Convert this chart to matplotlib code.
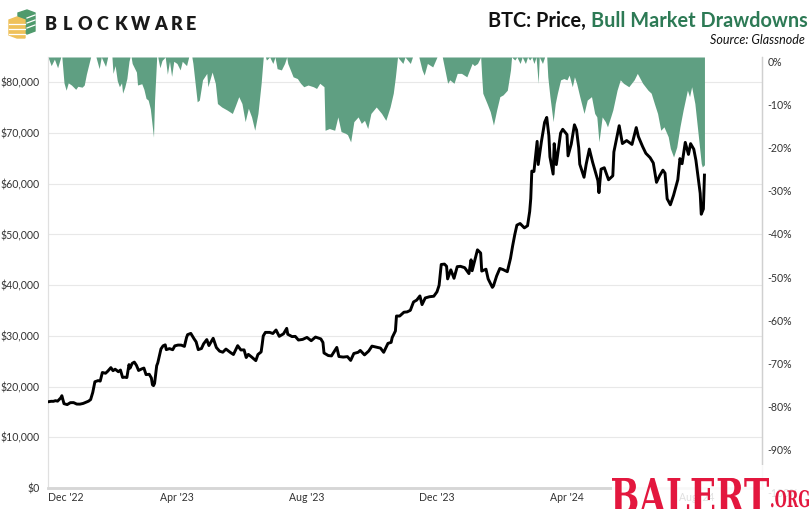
import matplotlib
matplotlib.use('Agg')
import matplotlib.pyplot as plt
import matplotlib.patches as mpatches
import matplotlib.transforms as mtransforms
from matplotlib.textpath import TextPath
from matplotlib.font_manager import FontProperties
import pandas as pd
import numpy as np

plt.rcParams['font.family'] = ['Lato', 'DejaVu Sans']

# BTC price (USD)
price_dates = [
    '2022-12-01', '2022-12-04', '2022-12-06', '2022-12-08', '2022-12-10', '2022-12-13', '2022-12-14',
    '2022-12-16', '2022-12-19', '2022-12-22', '2022-12-25', '2022-12-28', '2022-12-31',
    '2023-01-03', '2023-01-06', '2023-01-08', '2023-01-10', '2023-01-12', '2023-01-13', '2023-01-14',
    '2023-01-17', '2023-01-19', '2023-01-21', '2023-01-24', '2023-01-26', '2023-01-29', '2023-01-31',
    '2023-02-02', '2023-02-05', '2023-02-07', '2023-02-09', '2023-02-11', '2023-02-13', '2023-02-15',
    '2023-02-16', '2023-02-18', '2023-02-20', '2023-02-22', '2023-02-24', '2023-02-27', '2023-03-01',
    '2023-03-03', '2023-03-06', '2023-03-08', '2023-03-09', '2023-03-10', '2023-03-11', '2023-03-13',
    '2023-03-14', '2023-03-17', '2023-03-19', '2023-03-21', '2023-03-22', '2023-03-25', '2023-03-28',
    '2023-03-30', '2023-04-02', '2023-04-05', '2023-04-08', '2023-04-10', '2023-04-11', '2023-04-14',
    '2023-04-17', '2023-04-19', '2023-04-21', '2023-04-24', '2023-04-26', '2023-04-29', '2023-05-01',
    '2023-05-05', '2023-05-08', '2023-05-11', '2023-05-14', '2023-05-17', '2023-05-21', '2023-05-24',
    '2023-05-28', '2023-05-31', '2023-06-03', '2023-06-05', '2023-06-07', '2023-06-10', '2023-06-14',
    '2023-06-16', '2023-06-19', '2023-06-20', '2023-06-21', '2023-06-23', '2023-06-27', '2023-06-30',
    '2023-07-03', '2023-07-06', '2023-07-10', '2023-07-13', '2023-07-14', '2023-07-18', '2023-07-21',
    '2023-07-24', '2023-07-28', '2023-08-01', '2023-08-05', '2023-08-09', '2023-08-14', '2023-08-16',
    '2023-08-17', '2023-08-21', '2023-08-24', '2023-08-29', '2023-08-31', '2023-09-04', '2023-09-08',
    '2023-09-11', '2023-09-14', '2023-09-18', '2023-09-20', '2023-09-24', '2023-09-28', '2023-10-01',
    '2023-10-05', '2023-10-09', '2023-10-12', '2023-10-16', '2023-10-19', '2023-10-20', '2023-10-23',
    '2023-10-24', '2023-10-27', '2023-10-31', '2023-11-03', '2023-11-06', '2023-11-09', '2023-11-12',
    '2023-11-15', '2023-11-17', '2023-11-20', '2023-11-24', '2023-11-28', '2023-12-01', '2023-12-03',
    '2023-12-04', '2023-12-05', '2023-12-08', '2023-12-10', '2023-12-11', '2023-12-14', '2023-12-17',
    '2023-12-20', '2023-12-23', '2023-12-27', '2023-12-31', '2024-01-02', '2024-01-03', '2024-01-08',
    '2024-01-11', '2024-01-12', '2024-01-16', '2024-01-18', '2024-01-22', '2024-01-23', '2024-01-26',
    '2024-01-29', '2024-02-01', '2024-02-05', '2024-02-08', '2024-02-10', '2024-02-12', '2024-02-14',
    '2024-02-17', '2024-02-21', '2024-02-24', '2024-02-26', '2024-02-27', '2024-02-28', '2024-03-01',
    '2024-03-04', '2024-03-05', '2024-03-08', '2024-03-11', '2024-03-13', '2024-03-15', '2024-03-16',
    '2024-03-19', '2024-03-20', '2024-03-22', '2024-03-26', '2024-03-28', '2024-04-01', '2024-04-02',
    '2024-04-05', '2024-04-08', '2024-04-10', '2024-04-12', '2024-04-13', '2024-04-17', '2024-04-19',
    '2024-04-22', '2024-04-25', '2024-04-30', '2024-05-01', '2024-05-03', '2024-05-06', '2024-05-10',
    '2024-05-14', '2024-05-15', '2024-05-20', '2024-05-23', '2024-05-27', '2024-06-01', '2024-06-05',
    '2024-06-07', '2024-06-11', '2024-06-14', '2024-06-18', '2024-06-21', '2024-06-24', '2024-06-27',
    '2024-06-30', '2024-07-02', '2024-07-04', '2024-07-05', '2024-07-07', '2024-07-10', '2024-07-14',
    '2024-07-16', '2024-07-18', '2024-07-21', '2024-07-24', '2024-07-26', '2024-07-29', '2024-07-31',
    '2024-08-02', '2024-08-04', '2024-08-05', '2024-08-07', '2024-08-08',
]
price_values = [
    17000, 17100, 17090, 17220, 17130, 17780, 18200,
    16630, 16450, 16830, 16840, 16550, 16540,
    16680, 16950, 17120, 17440, 18850, 19930, 20950,
    21180, 21080, 22780, 22630, 23020, 23740, 23130,
    23430, 22930, 23260, 21800, 21860, 21780, 24330,
    23640, 24570, 24830, 24190, 23180, 23490, 23650,
    22360, 22430, 21700, 20360, 20190, 20630, 24120,
    24670, 27420, 28040, 28230, 27290, 27490, 27270,
    28030, 28190, 28180, 27930, 29670, 30240, 30490,
    29440, 28820, 27290, 27510, 28430, 29270, 28090,
    29530, 27700, 26990, 26780, 27400, 26750, 26330,
    28070, 27220, 27240, 25730, 26350, 25850, 25120,
    26330, 26840, 28330, 30000, 30690, 30690, 30470,
    31160, 29910, 30410, 31480, 30320, 29860, 29900,
    29180, 29310, 29700, 29050, 29770, 29410, 28700,
    26630, 26120, 26050, 27730, 25930, 25820, 25910,
    25160, 26530, 26760, 27130, 26250, 27020, 27980,
    27780, 27590, 26760, 28520, 28720, 29680, 30970,
    33920, 33910, 34670, 34730, 35040, 36690, 37060,
    37880, 36170, 37480, 37720, 37820, 38690, 39970,
    41980, 44080, 44160, 43730, 41240, 43020, 41360,
    43650, 43720, 43450, 42280, 45000, 42850, 46970,
    46340, 42780, 43150, 41250, 39570, 39850, 41820,
    43300, 43080, 42660, 45290, 47750, 49960, 51840,
    52160, 51300, 51730, 54520, 57080, 62500, 62430,
    68360, 63800, 68310, 72120, 73080, 69500, 65320,
    61910, 67910, 63780, 69990, 70740, 69700, 65500,
    67840, 71630, 70590, 67100, 63860, 61280, 63840,
    66840, 64290, 60620, 58250, 62890, 63160, 60790,
    61570, 66270, 71450, 67930, 68520, 67760, 71080,
    69300, 67320, 66010, 65150, 64100, 60280, 61610,
    62680, 62090, 57030, 56660, 55850, 57720, 60800,
    64960, 63960, 68160, 65790, 67910, 66810, 64620,
    61420, 58120, 53990, 55030, 61710,
]

# bull market drawdown (%)
dd_dates = [
    '2022-12-01', '2022-12-04', '2022-12-07', '2022-12-10', '2022-12-13', '2022-12-14', '2022-12-16',
    '2022-12-18', '2022-12-20', '2022-12-23', '2022-12-27', '2022-12-29', '2023-01-02', '2023-01-04',
    '2023-01-06', '2023-01-08', '2023-01-10', '2023-01-15', '2023-01-18', '2023-01-20', '2023-01-24',
    '2023-01-26', '2023-01-30', '2023-01-31', '2023-02-02', '2023-02-04', '2023-02-06', '2023-02-08',
    '2023-02-09', '2023-02-11', '2023-02-13', '2023-02-15', '2023-02-16', '2023-02-17', '2023-02-18',
    '2023-02-22', '2023-02-23', '2023-02-27', '2023-03-01', '2023-03-03', '2023-03-05', '2023-03-07',
    '2023-03-10', '2023-03-11', '2023-03-13', '2023-03-14', '2023-03-16', '2023-03-18', '2023-03-21',
    '2023-03-23', '2023-03-25', '2023-03-27', '2023-03-29', '2023-04-01', '2023-04-04', '2023-04-06',
    '2023-04-10', '2023-04-12', '2023-04-15', '2023-04-16', '2023-04-20', '2023-04-22', '2023-04-25',
    '2023-04-29', '2023-04-30', '2023-05-04', '2023-05-07', '2023-05-09', '2023-05-13', '2023-05-18',
    '2023-05-23', '2023-05-26', '2023-05-29', '2023-06-01', '2023-06-04', '2023-06-07', '2023-06-10',
    '2023-06-13', '2023-06-16', '2023-06-19', '2023-06-21', '2023-06-23', '2023-06-24', '2023-06-27',
    '2023-06-30', '2023-07-02', '2023-07-04', '2023-07-08', '2023-07-11', '2023-07-13', '2023-07-14',
    '2023-07-19', '2023-07-23', '2023-07-26', '2023-07-29', '2023-08-02', '2023-08-07', '2023-08-10',
    '2023-08-13', '2023-08-17', '2023-08-18', '2023-08-22', '2023-08-27', '2023-08-30', '2023-09-02',
    '2023-09-06', '2023-09-08', '2023-09-11', '2023-09-14', '2023-09-18', '2023-09-21', '2023-09-24',
    '2023-09-27', '2023-09-30', '2023-10-05', '2023-10-10', '2023-10-14', '2023-10-18', '2023-10-21',
    '2023-10-23', '2023-10-25', '2023-10-30', '2023-11-01', '2023-11-06', '2023-11-08', '2023-11-14',
    '2023-11-17', '2023-11-19', '2023-11-22', '2023-11-27', '2023-12-01', '2023-12-06', '2023-12-11',
    '2023-12-13', '2023-12-17', '2023-12-20', '2023-12-24', '2023-12-29', '2024-01-03', '2024-01-05',
    '2024-01-08', '2024-01-11', '2024-01-12', '2024-01-13', '2024-01-17', '2024-01-20', '2024-01-23',
    '2024-01-26', '2024-01-29', '2024-02-01', '2024-02-05', '2024-02-08', '2024-02-09', '2024-02-12',
    '2024-02-14', '2024-02-17', '2024-02-19', '2024-02-22', '2024-02-24', '2024-02-26', '2024-02-28',
    '2024-03-01', '2024-03-03', '2024-03-05', '2024-03-06', '2024-03-09', '2024-03-11', '2024-03-13',
    '2024-03-14', '2024-03-16', '2024-03-19', '2024-03-21', '2024-03-23', '2024-03-26', '2024-03-29',
    '2024-04-01', '2024-04-03', '2024-04-06', '2024-04-08', '2024-04-10', '2024-04-13', '2024-04-17',
    '2024-04-20', '2024-04-24', '2024-04-27', '2024-04-29', '2024-05-01', '2024-05-04', '2024-05-07',
    '2024-05-09', '2024-05-12', '2024-05-14', '2024-05-18', '2024-05-21', '2024-05-24', '2024-05-29',
    '2024-06-03', '2024-06-06', '2024-06-11', '2024-06-16', '2024-06-19', '2024-06-22', '2024-06-25',
    '2024-06-28', '2024-07-01', '2024-07-05', '2024-07-07', '2024-07-10', '2024-07-13', '2024-07-16',
    '2024-07-19', '2024-07-23', '2024-07-25', '2024-07-27', '2024-07-30', '2024-08-02', '2024-08-05',
    '2024-08-06', '2024-08-08',
]
dd_values = [
    0, -2.0, -0.5, -2.5, 0, 0, -6.0,
    -7.7, -6.0, -6.5, -7.5, -6.8, -7.0, -6.5,
    -4.0, -2.0, 0, 0, -2.7, 0, -2.2,
    0, 0, -3.8, -2.0, -5.5, -6.9, -6.0,
    -8.4, -7.0, -5.0, -1.0, 0, 0, -1.5,
    -3.5, -6.5, -6.2, -7.5, -9.6, -10.0, -12.0,
    -18.6, -10.0, 0, 0, -2.5, -0.8, 0,
    -4.0, -1.0, -4.5, -1.0, -1.5, -3.0, -1.0,
    -2.0, 0, 0, -1.5, -10.4, -10.0, -5.3,
    -3.8, -6.9, -3.5, -6.1, -10.8, -11.6, -12.3,
    -13.1, -11.2, -9.2, -10.8, -15.0, -11.9, -13.9,
    -17.0, -13.1, -6.1, 0, 0, -0.7, 0,
    -1.5, 0, -2.7, -3.0, -1.5, 0, -1.5,
    -4.6, -5.0, -6.1, -6.9, -6.5, -6.9, -7.3,
    -6.1, -6.9, -17.0, -16.6, -17.0, -13.9, -17.3,
    -17.7, -18.0, -19.7, -15.0, -13.9, -15.4, -14.7,
    -16.6, -13.1, -11.6, -13.1, -14.7, -11.6, -8.4,
    -4.6, 0, -1.5, 0, -1.5, 0, 0,
    -3.0, -4.2, -1.5, -2.3, 0, 0, -6.1,
    -5.3, -6.1, -3.8, -3.8, -4.6, -1.5, -2.0,
    -1.5, 0, -4.6, -8.4, -10.8, -12.7, -15.8,
    -12.3, -9.2, -8.8, -7.7, -3.0, 0, -0.7,
    0, -1.5, 0, -1.5, 0, -0.7, 0,
    -1.5, 0, -6.1, 0, -1.5, 0, 0,
    -4.6, -9.2, -15.0, -10.8, -8.4, -5.3, -5.0,
    -5.3, -4.2, -6.9, -4.6, -6.1, -9.2, -13.1,
    -10.0, -9.2, -13.1, -13.9, -19.7, -13.9, -15.0,
    -16.2, -13.9, -12.3, -7.7, -5.3, -6.1, -6.9,
    -5.3, -3.8, -6.1, -7.7, -8.4, -10.8, -13.1,
    -17.0, -16.2, -18.5, -21.2, -23.2, -20.9, -16.2,
    -12.3, -7.7, -9.2, -6.9, -10.8, -17.7, -24.7,
    -25.5, -25.0,
]

x_ticks = ['2022-12-01', '2023-04-01', '2023-08-01', '2023-12-01', '2024-04-01', '2024-08-01']
x_labels = ["Dec '22", "Apr '23", "Aug '23", "Dec '23", "Apr '24", "Aug '24"]
price_ticks = np.arange(0, 80001, 10000)
dd_ticks = np.arange(0, -101, -10)

green_fill = '#5f9f82'
green_text = '#2d7a55'
text_col = '#333333'
red_mark = '#e3173e'

price_dates = pd.to_datetime(price_dates)
dd_dates = pd.to_datetime(dd_dates)
dd_frac = np.array(dd_values) / 100.0

W, H = 811, 509
fig = plt.figure(figsize=(W / 100, H / 100), dpi=100)
ax = fig.add_axes([48 / W, 21 / H, 714 / W, 431 / H])
ax2 = ax.twinx()

# price axis (left) with gridlines
ax.set_ylim(0, 85000)
ax.set_yticks(price_ticks)
ax.set_yticklabels([f'${v:,.0f}' for v in price_ticks])
ax.yaxis.grid(True, color='#e8e8e8', lw=0.8)
ax.set_axisbelow(True)
ax.tick_params(axis='y', length=0, pad=6, labelsize=7.6, labelcolor=text_col)

# drawdown fill (right axis)
ax2.fill_between(dd_dates, dd_frac, 0, color=green_fill, lw=0, zorder=1)
ax2.set_ylim(-1.0, 0)
ax2.set_yticks(dd_ticks / 100.0)
ax2.set_yticklabels([f'{v:.0f}%' for v in dd_ticks])
ax2.tick_params(axis='y', length=0, pad=4, labelsize=7.6, labelcolor=text_col)
for lbl in ax2.get_yticklabels():
    lbl.set_verticalalignment('top')

# price line drawn on top of the fill
ax2.plot(price_dates, price_values, transform=ax.transData, color='black', lw=2.1,
         solid_joinstyle='round', zorder=3)

ax.set_xlim(pd.Timestamp('2022-12-01'), pd.Timestamp('2024-10-01'))
ax.set_xticks(pd.to_datetime(x_ticks))
ax.set_xticklabels(x_labels)
ax.tick_params(axis='x', length=0, pad=3, labelsize=7.6, labelcolor=text_col)
ax.get_xticklabels()[0].set_horizontalalignment('left')

for a in (ax, ax2):
    a.spines['top'].set_visible(False)
    a.spines['left'].set_color('#e0e0e0')
    a.spines['left'].set_linewidth(0.8)
    a.spines['right'].set_color('#d0d0d0')
    a.spines['right'].set_linewidth(0.9)
    a.spines['bottom'].set_color('#d6d6d6')
    a.spines['bottom'].set_linewidth(1.8)

# title
t_green = fig.text(808 / W, 1 - 27 / H, 'Bull Market Drawdowns', color=green_text,
                   fontsize=14.3, fontweight='bold', ha='right', va='baseline')
fig.texts.append(plt.Annotation('BTC: Price, ', xy=(0, 0), xycoords=t_green,
                                ha='right', va='bottom', fontsize=14.3,
                                fontweight='bold', color='#111111'))
fig.texts[-1].set_figure(fig)
fig.text(805 / W, 1 - 40 / H, 'Source: Glassnode', fontsize=9, style='italic',
         color='#111111', ha='right', va='center')

# logo
icon = fig.add_axes([7 / W, 1 - 39 / H, 29 / W, 30 / H])
icon.set_xlim(0, 29)
icon.set_ylim(30, 0)
icon.axis('off')
icon.add_patch(mpatches.Polygon([[11, 4], [20, 1], [28, 4], [28, 22], [20, 25], [11, 22]],
                                closed=True, color='#4f9a6c'))
for yy in (8, 13, 18):
    icon.plot([20, 28], [yy + 1, yy - 2], color='white', lw=0.9)
icon.add_patch(mpatches.Polygon([[2, 11], [10, 8], [18, 11], [18, 29], [10, 29], [2, 26]],
                                closed=True, color='#efc15a'))
for yy in (15, 20, 25):
    icon.plot([2, 18], [yy, yy], color='white', lw=0.9)
letter_x = [51, 67.5, 85, 102.5, 121, 141, 160.5, 177, 191]
for ch, xx in zip('BLOCKWARE', letter_x):
    fig.text(xx / W, 1 - 24 / H, ch, fontsize=13, fontweight='heavy', color='#1a1a1a',
             ha='center', va='center')

# watermark in the bottom right corner
fig.patches.append(mpatches.Rectangle((612 / W, 0), 1 - 612 / W, 44 / H, transform=fig.transFigure,
                                      facecolor='white', alpha=0.85, edgecolor='none', zorder=5))
slab = FontProperties(family='DejaVu Serif', weight='bold')


def stamp(txt, x0, x1, top, base):
    # text path squeezed into a pixel box (x0..x1, baseline..top, from bottom)
    tp = TextPath((0, 0), txt, size=40, prop=slab)
    ext = tp.get_extents()
    sx = (x1 - x0) / ext.width
    sy = (top - base) / ext.y1
    tr = mtransforms.Affine2D().translate(-ext.x0, 0).scale(sx, sy).translate(x0, base)
    fig.patches.append(mpatches.PathPatch(tp, transform=tr, facecolor=red_mark,
                                          edgecolor='none', zorder=6))


stamp('BALERT', 612, 769, H - 478, -4)
stamp('.ORG', 771, 809, H - 490, 2)

fig.savefig('out.png', dpi=100)
